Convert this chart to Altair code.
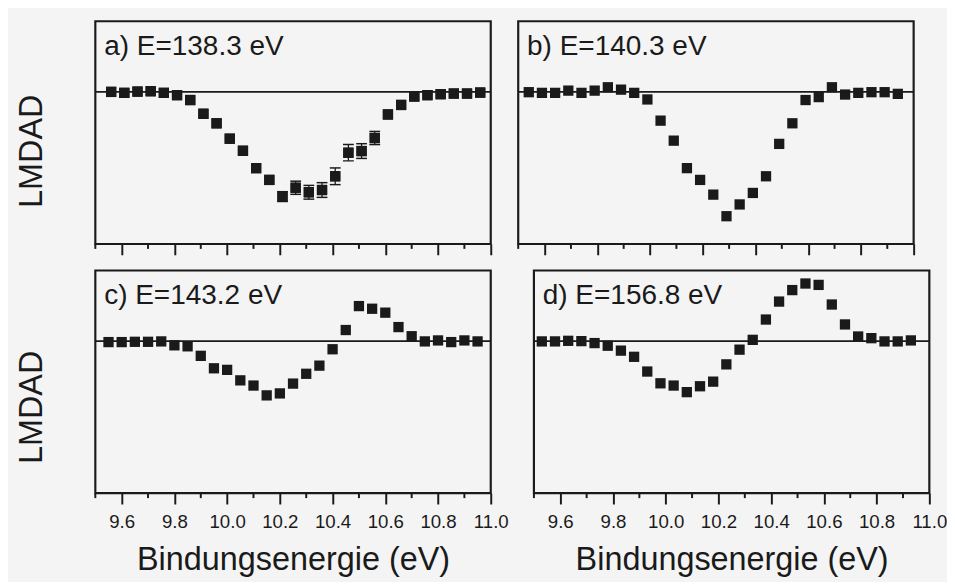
import altair as alt
import pandas as pd

FONT = "Liberation Sans"
INK = "#1a1a1a"
BG = "#f4f4f4"

# Tick values on the energy axis: labelled majors and unlabelled minors
MAJOR_TICKS = [9.6, 9.8, 10.0, 10.2, 10.4, 10.6, 10.8, 11.0]
MINOR_TICKS = [9.5, 9.7, 9.9, 10.1, 10.3, 10.5, 10.7, 10.9]

# Panel labels
LABELS = ["a) E=138.3 eV", "b) E=140.3 eV", "c) E=143.2 eV", "d) E=156.8 eV"]

# Binding energies (eV) of the measured points
x_a = [9.56, 9.61, 9.66, 9.71, 9.76, 9.81, 9.86, 9.91, 9.96, 10.01, 10.06, 10.11,
       10.16, 10.21, 10.26, 10.31, 10.36, 10.41, 10.46, 10.51, 10.56, 10.61, 10.66,
       10.71, 10.76, 10.81, 10.86, 10.91, 10.96]
x_b = [9.54, 9.59, 9.64, 9.69, 9.74, 9.79, 9.84, 9.89, 9.94, 9.99, 10.04, 10.09,
       10.14, 10.19, 10.24, 10.29, 10.34, 10.39, 10.44, 10.49, 10.54, 10.59, 10.64,
       10.69, 10.74, 10.79, 10.84, 10.89, 10.94]
x_c = [9.55, 9.60, 9.65, 9.70, 9.75, 9.80, 9.85, 9.90, 9.95, 10.00, 10.05, 10.10,
       10.15, 10.20, 10.25, 10.30, 10.35, 10.40, 10.45, 10.50, 10.55, 10.60, 10.65,
       10.70, 10.75, 10.80, 10.85, 10.90, 10.95]
x_d = [9.53, 9.58, 9.63, 9.68, 9.73, 9.78, 9.83, 9.88, 9.93, 9.98, 10.03, 10.08,
       10.13, 10.18, 10.23, 10.28, 10.33, 10.38, 10.43, 10.48, 10.53, 10.58, 10.63,
       10.68, 10.73, 10.78, 10.83, 10.88, 10.93]

# LMDAD values (arbitrary units)
y_a = [0.0, -0.01, 0.003, 0.007, -0.01, -0.033, -0.083, -0.223, -0.32, -0.477, -0.6,
       -0.777, -0.897, -1.067, -0.977, -1.023, -1.0, -0.86, -0.62, -0.603, -0.47,
       -0.23, -0.133, -0.047, -0.033, -0.023, -0.017, -0.017, -0.007]
err_a = [0, 0, 0, 0, 0, 0, 0, 0, 0, 0, 0, 0, 0, 0.05, 0.067, 0.07, 0.075, 0.085,
         0.083, 0.075, 0.067, 0, 0, 0, 0, 0, 0, 0, 0]
y_b = [-0.003, -0.01, -0.01, 0.013, -0.01, 0.013, 0.047, 0.023, -0.01, -0.077, -0.293,
       -0.497, -0.777, -0.897, -1.047, -1.267, -1.147, -1.03, -0.86, -0.53, -0.32,
       -0.083, -0.053, 0.047, -0.027, -0.01, -0.003, -0.003, -0.02]
y_c = [-0.01, -0.01, -0.007, -0.007, -0.003, -0.043, -0.053, -0.15, -0.277, -0.293,
       -0.4, -0.453, -0.553, -0.533, -0.433, -0.333, -0.25, -0.083, 0.113, 0.357, 0.33,
       0.29, 0.143, 0.05, -0.003, 0.007, -0.01, 0.007, -0.003]
y_d = [-0.003, -0.003, 0.003, 0.0, -0.02, -0.047, -0.097, -0.16, -0.31, -0.43, -0.453,
       -0.52, -0.46, -0.413, -0.237, -0.087, 0.013, 0.22, 0.403, 0.52, 0.587, 0.573,
       0.373, 0.17, 0.047, 0.03, -0.003, -0.003, 0.007]

X_DOMAIN = [9.5, 11.0]
Y_DOMAIN = [-1.55, 0.72]
W, H = 403, 227
MAJOR_LEN, MINOR_LEN = 11, 5


def panel(xs, ys, label, errs=None, left=False, bottom=False, title_y=132):
    df = pd.DataFrame({"x": xs, "y": ys})
    ax_kw = dict(
        values=MAJOR_TICKS,
        tickSize=MAJOR_LEN,
        tickWidth=2,
        tickColor=INK,
        domain=False,
        grid=False,
        labels=bottom,
        format=".1f",
        labelFont=FONT,
        labelFontSize=19,
        labelColor=INK,
        labelPadding=9,
        labelFlush=False,
        labelOverlap=False,
    )
    if bottom:
        ax_kw.update(title="Bindungsenergie (eV)", titleFont=FONT, titleFontSize=33,
                     titleFontWeight="normal", titleColor=INK, titlePadding=13)
    else:
        ax_kw.update(title=None)
    xscale = alt.Scale(domain=X_DOMAIN, nice=False, zero=False)
    x_enc = alt.X("x:Q", scale=xscale, axis=alt.Axis(**ax_kw))
    if left:
        y_axis = alt.Axis(title="LMDAD", labels=False, ticks=False, domain=False,
                          grid=False, titleFont=FONT, titleFontSize=33,
                          titleFontWeight="normal", titleColor=INK, titleX=-55,
                          titleY=title_y, titleBaseline="alphabetic")
    else:
        y_axis = None
    y_enc = alt.Y("y:Q", scale=alt.Scale(domain=Y_DOMAIN, nice=False, zero=False),
                  axis=y_axis)

    pts = alt.Chart(df).mark_square(size=110, color=INK, opacity=1).encode(
        x=x_enc, y=y_enc)
    zero = alt.Chart(pd.DataFrame({"y": [0.0]})).mark_rule(
        color=INK, strokeWidth=2).encode(y=alt.Y("y:Q"))
    minor = alt.Chart(pd.DataFrame({"x": MINOR_TICKS})).mark_rule(
        color=INK, strokeWidth=2).encode(
        x=alt.X("x:Q"), y=alt.value(H), y2=alt.value(H + MINOR_LEN))
    layers = [pts, zero, minor]
    if errs is not None:
        edf = pd.DataFrame({"x": xs, "y": ys, "e": errs})
        edf = edf[edf["e"] > 0].copy()
        edf["lo"] = edf["y"] - edf["e"]
        edf["hi"] = edf["y"] + edf["e"]
        bars = alt.Chart(edf).mark_rule(color=INK, strokeWidth=1.3).encode(
            x="x:Q", y="lo:Q", y2="hi:Q")
        cap_df = pd.concat([
            edf[["x", "lo"]].rename(columns={"lo": "c"}),
            edf[["x", "hi"]].rename(columns={"hi": "c"})])
        caps = alt.Chart(cap_df).mark_tick(
            orient="horizontal", size=11, thickness=1.5, color=INK, opacity=1).encode(
            x="x:Q", y="c:Q")
        layers += [bars, caps, pts]
    txt = alt.Chart(pd.DataFrame({"t": [label]})).mark_text(
        align="left", baseline="alphabetic", font=FONT, fontSize=28.5, color=INK).encode(
        x=alt.value(9), y=alt.value(34), text="t:N")
    # panel frame
    frame = alt.Chart(pd.DataFrame({"f": [0]})).mark_rect(
        filled=False, stroke=INK, strokeWidth=2.2, strokeOpacity=1).encode(
        x=alt.value(0), x2=alt.value(W), y=alt.value(0), y2=alt.value(H))
    layers += [txt, frame]
    return alt.layer(*layers).properties(width=W, height=H)


pa = panel(x_a, y_a, LABELS[0], errs=err_a, left=True, bottom=False, title_y=132)
pb = panel(x_b, y_b, LABELS[1], left=False, bottom=False)
pc = panel(x_c, y_c, LABELS[2], left=True, bottom=True, title_y=139)
pd_ = panel(x_d, y_d, LABELS[3], left=False, bottom=True)

chart = alt.vconcat(
    alt.hconcat(pa, pb, spacing=24),
    alt.hconcat(pc, pd_, spacing=24),
    spacing=13,
).properties(
    padding={"left": 8, "top": 6, "right": 0, "bottom": 0},
    background=BG,
).configure_view(strokeWidth=0)

chart.save("out.html", embed_options={"renderer": "svg", "actions": False})
